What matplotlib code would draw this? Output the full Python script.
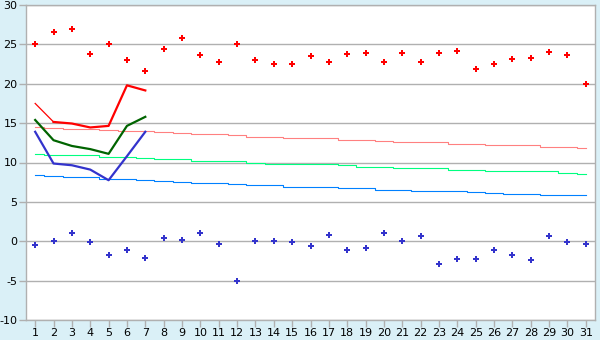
import numpy as np
import matplotlib.pyplot as plt

plt.rcParams['axes.unicode_minus'] = False

days = list(range(1, 32))

# daily max / min temperatures
t_max = [25.0, 26.6, 27.0, 23.8, 25.0, 23.0, 21.6, 24.4, 25.8, 23.6,
         22.7, 25.0, 23.0, 22.5, 22.5, 23.5, 22.8, 23.8, 23.85, 22.8,
         23.85, 22.8, 23.85, 24.2, 21.9, 22.5, 23.2, 23.3, 24.0, 23.6, 20.0]
t_min = [-0.45, 0.0, 1.0, -0.15, -1.8, -1.05, -2.1, 0.35, 0.2, 1.1,
         -0.3, -5.0, 0.0, 0.0, -0.15, -0.55, 0.85, -1.05, -0.8, 1.0,
         0.0, 0.72, -2.85, -2.2, -2.2, -1.05, -1.8, -2.35, 0.72, -0.15, -0.3]

# first week lines
week_days = [1, 2, 3, 4, 5, 6, 7]
week_max = [17.5, 15.15, 14.95, 14.45, 14.65, 19.8, 19.15]
week_avg = [15.4, 12.83, 12.1, 11.7, 11.1, 14.65, 15.8]
week_min = [13.9, 9.87, 9.65, 9.1, 7.75, 10.8, 13.9]

# normals
norm_max = [14.45, 14.4, 14.3, 14.2, 14.1, 14.05, 13.95, 13.85, 13.75, 13.65,
            13.56, 13.43, 13.3, 13.18, 13.05, 13.05, 13.05, 12.92, 12.8, 12.67,
            12.54, 12.54, 12.54, 12.41, 12.29, 12.16, 12.16, 12.16, 12.03, 12.03, 11.9]
norm_avg = [11.14, 11.0, 10.9, 10.9, 10.75, 10.75, 10.6, 10.5, 10.4, 10.25,
            10.25, 10.13, 10.0, 9.87, 9.87, 9.75, 9.75, 9.62, 9.49, 9.49,
            9.36, 9.24, 9.24, 9.11, 9.11, 8.98, 8.86, 8.86, 8.86, 8.73, 8.6]
norm_min = [8.39, 8.3, 8.2, 8.1, 7.95, 7.85, 7.75, 7.65, 7.55, 7.45,
            7.45, 7.33, 7.2, 7.08, 6.95, 6.95, 6.95, 6.82, 6.7, 6.57,
            6.57, 6.44, 6.44, 6.44, 6.31, 6.19, 6.06, 6.06, 5.93, 5.93, 5.93]

y_ticks = list(range(-10, 31, 5))

fig = plt.figure(figsize=(6, 3.4), dpi=100, facecolor='#daf0f7')
ax = fig.add_axes([26/600, 20/340, 569/600, 315/340])
ax.set_facecolor('white')

ax.set_xlim(0.5, 31.5)
ax.set_ylim(-10, 30)
ax.set_yticks(y_ticks)
ax.set_xticks(days)
ax.yaxis.grid(True, color='#b0b0b0', linewidth=1)
ax.set_axisbelow(True)

for s in ax.spines.values():
    s.set_color('#b0b0b0')
    s.set_linewidth(1)

ax.tick_params(axis='both', colors='#b0b0b0', labelcolor='black', labelsize=8,
               length=5, width=1, pad=1)

ax.plot(days, norm_max, color='#ff8080', lw=0.8, drawstyle='steps-mid')
ax.plot(days, norm_avg, color='#00ff80', lw=0.8, drawstyle='steps-mid')
ax.plot(days, norm_min, color='#0080ff', lw=0.8, drawstyle='steps-mid')

ax.plot(week_days[:2], week_max[:2], color='red', lw=0.9)
ax.plot(week_days[1:], week_max[1:], color='red', lw=1.6)
ax.plot(week_days, week_avg, color='#006400', lw=1.6)
ax.plot(week_days, week_min, color='#3333cc', lw=1.6)

ax.plot(days, t_max, linestyle='none', marker='P', ms=5, color='red', mew=0)
ax.plot(days, t_min, linestyle='none', marker='P', ms=5, color='#3333cc', mew=0)

fig.savefig('out.png', dpi=100, facecolor=fig.get_facecolor())
